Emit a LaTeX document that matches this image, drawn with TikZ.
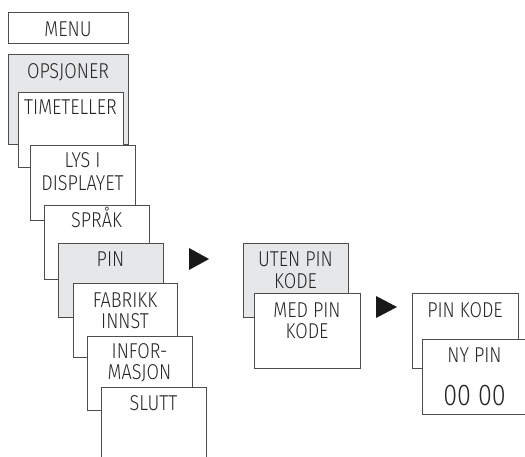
\documentclass[tikz,border=0pt]{standalone}
\usepackage{fontspec}
\setmainfont{Fira Sans Light}[FakeStretch=0.84]
\definecolor{boxline}{HTML}{4D4D4D}
\definecolor{boxgray}{HTML}{E6E7E9}
\definecolor{txt}{HTML}{262626}
\begin{document}
\begin{tikzpicture}[x=1pt,y=-1pt,
  menubox/.style={draw=boxline,line width=1.2pt,fill=white,inner sep=0pt,anchor=north west},
  graybox/.style={menubox,fill=boxgray},
  lbl/.style={text=txt,font=\fontsize{21.5}{24}\selectfont,anchor=base,inner sep=0pt},
  biglbl/.style={lbl,font=\fontsize{30}{34}\selectfont},
  tri/.style={fill=black!90}]
\useasboundingbox (0,0) rectangle (525,457);
\begin{scope}
\clip (0,0) rectangle (525,457);
% left column
\node[menubox,minimum width=120pt,minimum height=31pt] (menu) at (8,12) {};
\node[lbl] (tmenu) at (68,37) {MENU};
\node[graybox,minimum width=120pt,minimum height=90pt] (ops) at (8,54) {};
\node[lbl] (tops) at (68,79) {OPSJONER};
\node[menubox,minimum width=105pt,minimum height=75pt] (time) at (18,92) {};
\node[lbl] (ttime) at (70.5,115) {TIMETELLER};
\node[menubox,minimum width=105pt,minimum height=75pt] (lys) at (30,145) {};
\node[lbl] (tlys1) at (82.5,168) {LYS I};
\node[lbl] (tlys2) at (82.5,191) {DISPLAYET};
\node[menubox,minimum width=105pt,minimum height=74pt] (sprak) at (44,205) {};
\node[lbl] (tsprak) at (96.5,228) {SPRÅK};
\node[graybox,minimum width=105pt,minimum height=74pt] (pin) at (58,243) {};
\node[lbl] (tpin) at (110.5,267) {PIN};
\node[menubox,minimum width=104pt,minimum height=74pt] (fab) at (73,283) {};
\node[lbl] (tfab1) at (125,307) {FABRIKK};
\node[lbl] (tfab2) at (125,328) {INNST};
\node[menubox,minimum width=105pt,minimum height=74pt] (info) at (87,336) {};
\node[lbl] (tinfo1) at (139.5,358) {INFOR-};
\node[lbl] (tinfo2) at (139.5,379) {MASJON};
\node[menubox,minimum width=105pt,minimum height=90pt] (slutt) at (101,387) {};
\node[lbl] (tslutt) at (153.5,410) {SLUTT};
% middle column
\node[graybox,minimum width=105pt,minimum height=74pt] (uten) at (243,243) {};
\node[lbl] (tuten1) at (295.5,266) {UTEN PIN};
\node[lbl] (tuten2) at (295.5,288) {KODE};
\node[menubox,minimum width=106pt,minimum height=75pt] (med) at (254,293) {};
\node[lbl] (tmed1) at (307,317) {MED PIN};
\node[lbl] (tmed2) at (307,338) {KODE};
% right column
\node[menubox,minimum width=106pt,minimum height=75pt] (pkode) at (412,293) {};
\node[lbl] (tpkode) at (465,317) {PIN KODE};
\node[menubox,minimum width=106pt,minimum height=75pt] (ny) at (422,339) {};
\node[lbl] (tny) at (474.5,362) {NY PIN};
\node[biglbl] (tnull) at (474.5,405) {00 00};
% arrows
\fill[tri] (189,248) -- (209,259) -- (189,270) -- cycle;
\fill[tri] (376,296) -- (397,307) -- (376,318) -- cycle;
\end{scope}
\end{tikzpicture}
\end{document}
